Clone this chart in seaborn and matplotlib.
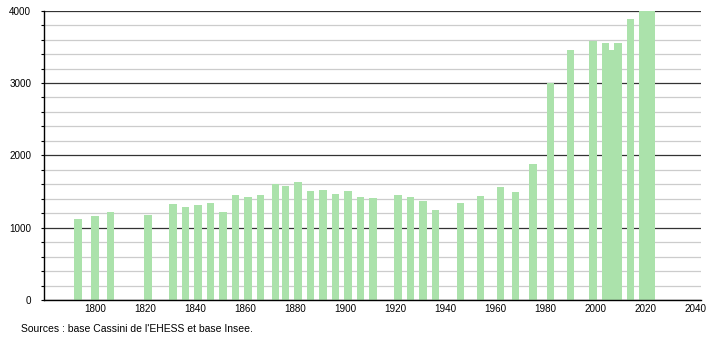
import matplotlib
matplotlib.use("Agg")
import matplotlib.pyplot as plt
import seaborn as sns
from matplotlib.ticker import MultipleLocator

years = [1793, 1800, 1806, 1821, 1831, 1836, 1841, 1846, 1851, 1856, 1861, 1866,
         1872, 1876, 1881, 1886, 1891, 1896, 1901, 1906, 1911, 1921, 1926, 1931,
         1936, 1946, 1954, 1962, 1968, 1975, 1982, 1990, 1999, 2004, 2006, 2009,
         2014, 2019, 2022]
population = [1120, 1161, 1217, 1175, 1332, 1286, 1318, 1336, 1217, 1452, 1424, 1452,
              1608, 1576, 1631, 1507, 1521, 1465, 1512, 1422, 1410, 1447, 1424, 1373,
              1244, 1336, 1438, 1562, 1498, 1880, 2995, 3456, 3581, 3553, 3460, 3553,
              3887, 3995, 4000]
x_ticks = list(range(1800, 2041, 20))
y_ticks = [0, 1000, 2000, 3000, 4000]
source_text = "Sources : base Cassini de l'EHESS et base Insee."

plt.rcParams['font.family'] = ['Liberation Sans', 'DejaVu Sans']

fig = plt.figure(figsize=(7.1, 3.4), dpi=100)
ax = fig.add_axes([44.3 / 710, 40 / 340, 656.4 / 710, 289.3 / 340])

sns.barplot(x=years, y=population, native_scale=True, orient="x",
            width=3.07 / 2, color="#abe2ab", saturation=1, linewidth=0,
            errorbar=None, ax=ax, zorder=3)

ax.set_xlim(1779.6, 2042.0)
ax.set_ylim(0, 4000)
ax.set_xticks(x_ticks)
ax.set_xticklabels([str(t) for t in x_ticks])
ax.set_yticks(y_ticks)
ax.set_yticklabels([str(t) for t in y_ticks])
ax.yaxis.set_minor_locator(MultipleLocator(200))

ax.set_axisbelow(True)
ax.grid(False)
ax.yaxis.grid(True, which='minor', color='#cccccc', linewidth=0.9)
ax.yaxis.grid(True, which='major', color='#333333', linewidth=0.9)
ax.xaxis.grid(False)

for s in ['top', 'right']:
    ax.spines[s].set_visible(False)
for s in ['left', 'bottom']:
    ax.spines[s].set_color('black')
    ax.spines[s].set_linewidth(1.0)
    ax.spines[s].set_zorder(5)

ax.tick_params(axis='y', which='both', length=2.5, width=0.8, direction='out',
               pad=7, labelsize=7.1, colors='black')
ax.tick_params(axis='x', which='both', length=0, pad=3, labelsize=7.1, colors='black')
ax.set_xlabel("")
ax.set_ylabel("")

fig.text(20.7 / 710, (340 - 329.5) / 340, source_text, fontsize=7.5,
         ha='left', va='center', color='black')

fig.savefig("out.png", dpi=100)
